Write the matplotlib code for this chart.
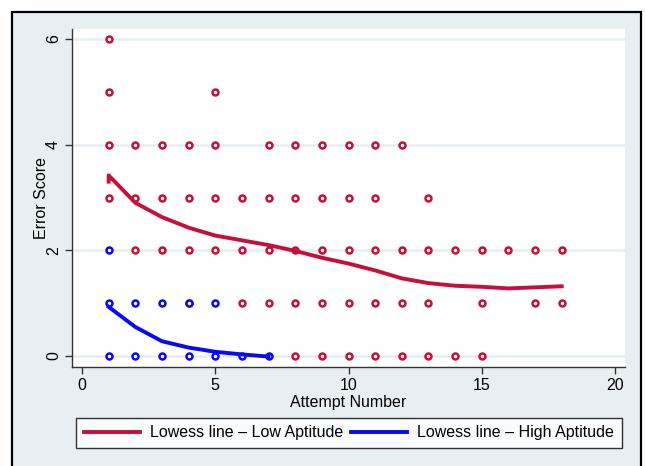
import matplotlib
matplotlib.use("Agg")
import matplotlib.pyplot as plt
from matplotlib.patches import Rectangle

plt.rcParams['font.family'] = ['Liberation Sans', 'DejaVu Sans']

RED = '#C4103A'
BLUE = '#0A0AF0'
BG = '#E8EFF2'

# observed error scores, low aptitude group
low_x = [1, 1, 5,
         1, 2, 3, 4, 5, 7, 8, 9, 10, 11, 12,
         1, 2, 3, 4, 5, 6, 7, 8, 9, 10, 11, 13,
         2, 3, 4, 5, 6, 7, 8, 9, 10, 11, 12, 13, 14, 15, 16, 17, 18,
         4, 6, 7, 8, 9, 10, 11, 12, 13, 15, 17, 18,
         8, 9, 10, 11, 12, 13, 14, 15]
low_y = [6, 5, 5,
         4, 4, 4, 4, 4, 4, 4, 4, 4, 4, 4,
         3, 3, 3, 3, 3, 3, 3, 3, 3, 3, 3, 3,
         2, 2, 2, 2, 2, 2, 2, 2, 2, 2, 2, 2, 2, 2, 2, 2, 2,
         1, 1, 1, 1, 1, 1, 1, 1, 1, 1, 1, 1,
         0, 0, 0, 0, 0, 0, 0, 0]

# observed error scores, high aptitude group
high_x = [1, 1, 2, 3, 4, 5, 1, 2, 3, 4, 5, 6, 7]
high_y = [2, 1, 1, 1, 1, 1, 0, 0, 0, 0, 0, 0, 0]

# lowess fits
low_fit_x = [1, 1, 2, 3, 4, 5, 6, 7, 8, 9, 10, 11, 12, 13, 14, 15, 16, 17, 18]
low_fit_y = [3.30, 3.42, 2.90, 2.63, 2.43, 2.28, 2.19, 2.10, 1.99, 1.86, 1.75,
             1.62, 1.47, 1.38, 1.33, 1.31, 1.28, 1.30, 1.32]
high_fit_x = [1, 2, 3, 4, 5, 6, 7]
high_fit_y = [0.93, 0.55, 0.28, 0.16, 0.08, 0.03, -0.01]

fig = plt.figure(figsize=(6.46, 4.66), dpi=100, facecolor='white')
fig.patches.append(Rectangle((12 / 646, -0.1), (641 - 12) / 646, 1.1 - 12 / 466,
                             transform=fig.transFigure, facecolor=BG,
                             edgecolor='black', linewidth=1.6, zorder=-5))

ax = fig.add_axes([72 / 646, 1 - 367 / 466, (625 - 72) / 646, (367 - 29) / 466])
ax.set_facecolor('white')
ax.set_xlim(-0.375, 20.375)
ax.set_ylim(-0.208, 6.19)

for g in [0, 2, 4, 6]:
    ax.axhline(g, color='#E6EEF1', linewidth=1.8, zorder=0)

ax.plot(low_x, low_y, 'o', markersize=4.3, markerfacecolor='white',
        markeredgecolor=RED, markeredgewidth=1.8, linestyle='none', zorder=2)
ax.plot(high_x, high_y, 'o', markersize=4.3, markerfacecolor='white',
        markeredgecolor=BLUE, markeredgewidth=1.8, linestyle='none', zorder=3)

ax.plot(low_fit_x, low_fit_y, color=RED, linewidth=2.8, zorder=4,
        label='Lowess line \u2013 Low Aptitude')
ax.plot(high_fit_x, high_fit_y, color=BLUE, linewidth=2.8, zorder=4,
        label='Lowess line \u2013 High Aptitude')

ax.set_xticks([0, 5, 10, 15, 20])
ax.set_yticks([0, 2, 4, 6])
ax.tick_params(axis='both', direction='out', length=5, width=1, color='#333333',
               labelsize=11.5, pad=3)
plt.setp(ax.get_yticklabels(), rotation=90, va='center')
for s in ['top', 'right']:
    ax.spines[s].set_visible(False)
for s in ['left', 'bottom']:
    ax.spines[s].set_color('#333333')
    ax.spines[s].set_linewidth(1)

ax.set_xlabel('Attempt Number', fontsize=11.5, labelpad=1)
ax.set_ylabel('Error Score', fontsize=11.5, labelpad=-2)

leg = fig.legend(loc='center', bbox_to_anchor=((78 + 620) / 2 / 646, 1 - 433 / 466),
                 ncol=2, fontsize=11.5, frameon=True, fancybox=False,
                 handlelength=3.5, columnspacing=0.5, handletextpad=0.6,
                 borderpad=0.5)
leg.get_frame().set_edgecolor('black')
leg.get_frame().set_linewidth(1)
leg.get_frame().set_facecolor('white')

fig.savefig('out.png', dpi=100, facecolor=fig.get_facecolor())
